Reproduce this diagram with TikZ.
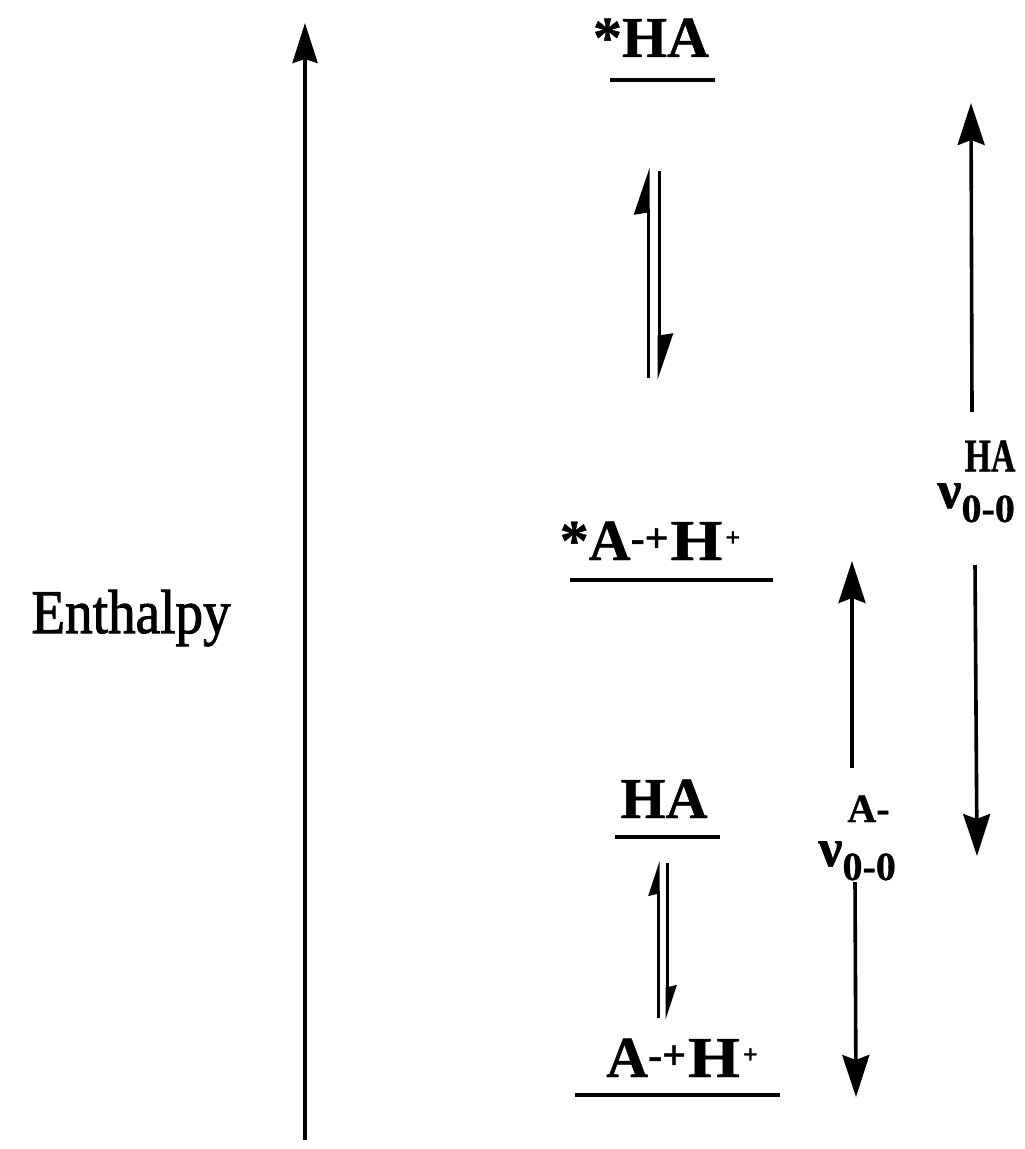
\documentclass[tikz,border=0pt]{standalone}
\usepackage{fontspec}
\setmainfont{Liberation Serif}
\newfontfamily\enthfont[FakeBold=1.6]{Liberation Serif}
\newfontfamily\heavyfont[FakeBold=0.8]{Liberation Serif Bold}
\usetikzlibrary{arrows.meta}

% type sizes for the level labels
\newcommand\lvlfont{\heavyfont\fontsize{29}{29}\selectfont}
\newcommand\chg[1]{\raisebox{4pt}{\fontsize{21}{21}\selectfont #1}}
\newcommand\supplus{\raisebox{7pt}{\fontsize{13}{13}\selectfont +}}
\newcommand\wideH{\scalebox{1.15}[1]{H}}
\newcommand\nuzero{{\fontsize{27}{27}\selectfont ν}\raisebox{-7pt}{\fontsize{20}{20}\selectfont 0-0}}

\begin{document}
\begin{tikzpicture}[x=0.5pt,y=-0.5pt,
  axisline/.style={line width=1.8pt, -{Stealth[length=20pt,width=12.5pt,inset=2pt]}},
  gapline/.style={line width=1.8pt, -{Stealth[length=21pt,width=13.5pt,inset=2.5pt]}},
  levelline/.style={line width=2pt},
  harpbig/.style={line width=1.5pt, -{Stealth[harpoon,length=21pt,width=14pt,inset=1pt]}},
  harpsmall/.style={line width=1.5pt, -{Stealth[harpoon,length=15pt,width=9.5pt,inset=1pt]}},
  lbl/.style={font=\lvlfont, anchor=base, inner sep=0pt},
  gaplbl/.style={font=\heavyfont, inner sep=0pt},
]
\useasboundingbox (0,0) rectangle (1024,1149);
\fill[white] (0,0) rectangle (1024,1149);

% enthalpy axis
\coordinate (ax0) at (305,1140);
\coordinate (ax1) at (305,23);
\draw[axisline] (ax0) -- (ax1);
\node[font=\enthfont\fontsize{31}{31}\selectfont, anchor=base, inner sep=0pt] (enth) at (131,633) {\scalebox{0.89}[1]{Enthalpy}};

% energy levels
\node[lbl] (exHA) at (651,57) {*HA};
\coordinate (l1a) at (610,80);  \coordinate (l1b) at (715,80);
\draw[levelline] (l1a) -- (l1b);

\node[lbl] (exA) at (650,560) {*A\chg{-}\chg{+}\hspace{1pt}\wideH\hspace{1.5pt}\supplus};
\coordinate (l2a) at (570,580); \coordinate (l2b) at (773,580);
\draw[levelline] (l2a) -- (l2b);

\node[lbl] (gsHA) at (664,818) {HA};
\coordinate (l3a) at (615,837); \coordinate (l3b) at (720,837);
\draw[levelline] (l3a) -- (l3b);

\node[lbl] (gsA) at (682,1077) {A\chg{-}\chg{+}\hspace{1pt}\wideH\hspace{1.5pt}\supplus};
\coordinate (l4a) at (575,1095); \coordinate (l4b) at (780,1095);
\draw[levelline] (l4a) -- (l4b);

% equilibrium harpoons, excited state
\coordinate (e1s) at (648,378); \coordinate (e1e) at (648,168);
\coordinate (e2s) at (659,171); \coordinate (e2e) at (659,380);
\draw[harpbig] (e1s) -- (e1e);
\draw[harpbig] (e2s) -- (e2e);

% equilibrium harpoons, ground state
\coordinate (g1s) at (658,1018); \coordinate (g1e) at (658,861);
\coordinate (g2s) at (667,863);  \coordinate (g2e) at (667,1020);
\draw[harpsmall] (g1s) -- (g1e);
\draw[harpsmall] (g2s) -- (g2e);

% 0-0 transition of HA
\node[gaplbl, anchor=center] (haT) at (990,456) {\fontsize{23.5}{23.5}\selectfont\scalebox{0.72}[1]{HA}};
\node[gaplbl, anchor=base west] (haN) at (937,508) {\nuzero};
\coordinate (ha1) at (972,412); \coordinate (ha1t) at (971,103);
\coordinate (ha2) at (975,565); \coordinate (ha2t) at (977,856);
\draw[gapline] (ha1) -- (ha1t);
\draw[gapline] (ha2) -- (ha2t);

% 0-0 transition of A-
\node[gaplbl, anchor=base west] (aT) at (847,822) {\fontsize{20}{20}\selectfont A-};
\node[gaplbl, anchor=base west] (aN) at (818,866) {\nuzero};
\coordinate (a1) at (852,768); \coordinate (a1t) at (852,561);
\coordinate (a2) at (855,882); \coordinate (a2t) at (856,1097);
\draw[gapline] (a1) -- (a1t);
\draw[gapline] (a2) -- (a2t);
\end{tikzpicture}
\end{document}
